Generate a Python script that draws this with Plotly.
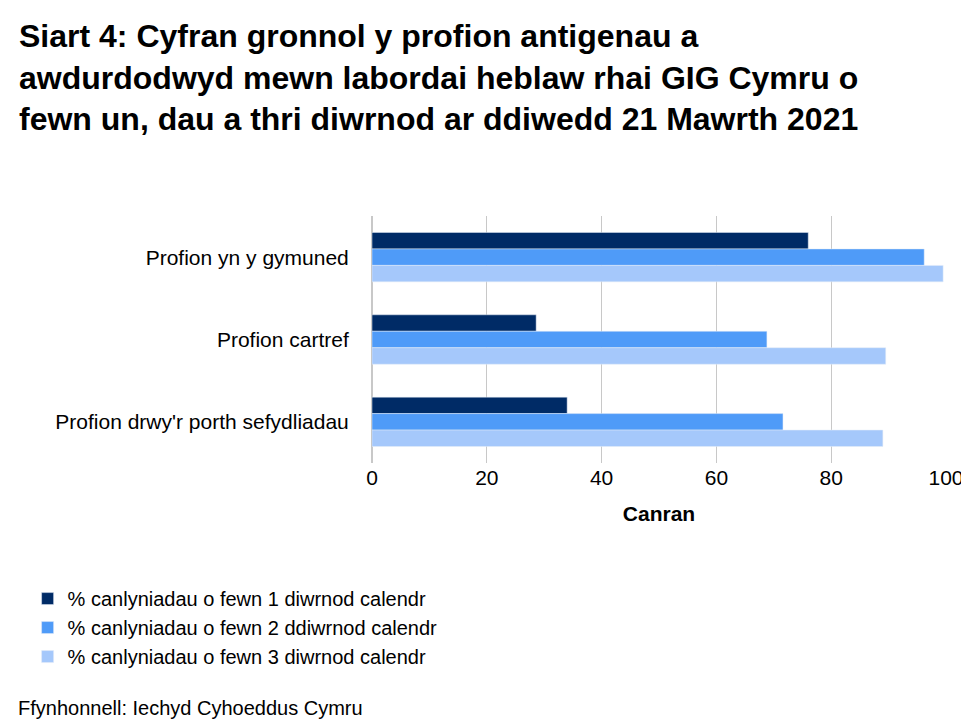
import plotly.graph_objects as go

categories = ["Profion yn y gymuned", "Profion cartref", "Profion drwy'r porth sefydliadau"]
series_names = [
    "% canlyniadau o fewn 1 diwrnod calendr",
    "% canlyniadau o fewn 2 ddiwrnod calendr",
    "% canlyniadau o fewn 3 diwrnod calendr",
]
day1 = [76.0, 28.6, 34.0]
day2 = [96.2, 68.8, 71.6]
day3 = [99.5, 89.5, 89.0]
colors = ["#002b66", "#4f9bf8", "#a5c8fb"]

fig = go.Figure()
for name, vals, col in zip(series_names, [day1, day2, day3], colors):
    fig.add_trace(go.Bar(y=categories, x=vals, name=name, orientation="h",
                         marker_color=col))

fig.update_layout(
    width=969, height=723,
    paper_bgcolor="white", plot_bgcolor="white",
    font=dict(family="Liberation Sans, Arial", size=20, color="black"),
    barmode="group", bargap=0.4, bargroupgap=0,
    margin=dict(l=364, r=31, t=208, b=268, autoexpand=False),
    legend=dict(orientation="h", x=-0.6, xanchor="left", y=-0.47, yanchor="top",
                font=dict(size=20), traceorder="normal", entrywidth=470,
                itemwidth=30),
    xaxis=dict(range=[0, 100], dtick=20, showgrid=True, gridcolor="#c8c8c8",
               zeroline=True, zerolinecolor="#c8c8c8", ticks="",
               title=dict(text="<b>Canran</b>", font=dict(size=21), standoff=18),
               tickfont=dict(size=21), automargin=False),
    yaxis=dict(autorange="reversed", ticks="outside", ticklen=18, tickcolor="white",
               tickfont=dict(size=21), showline=False, automargin=False),
)
fig.add_annotation(
    text="<b>Siart 4: Cyfran gronnol y profion antigenau a<br>awdurdodwyd mewn labordai heblaw rhai GIG Cymru o<br>fewn un, dau a thri diwrnod ar ddiwedd 21 Mawrth 2021</b>",
    xref="paper", yref="paper", x=-0.618, xanchor="left", y=1.0, yshift=200,
    yanchor="top", align="left", showarrow=False, font=dict(size=32))
fig.add_annotation(text="Ffynhonnell: Iechyd Cyhoeddus Cymru", xref="paper", yref="paper",
                   x=-0.62, xanchor="left", y=-0.99, yanchor="middle",
                   showarrow=False, font=dict(size=20))
fig.write_html("out.html")
